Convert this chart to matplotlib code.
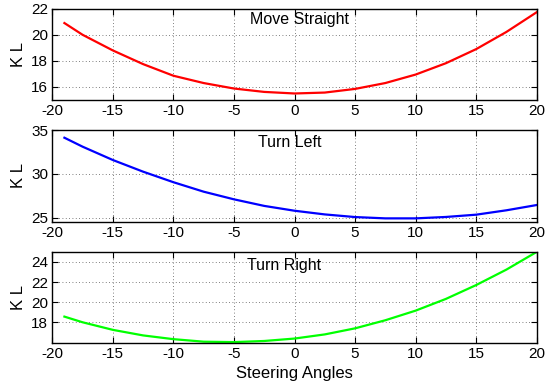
import numpy as np
import matplotlib.pyplot as plt

plt.rcParams['font.family'] = ['Liberation Sans', 'DejaVu Sans']
plt.rcParams['axes.unicode_minus'] = False

angles = [-19, -17.5, -15, -12.5, -10, -7.5, -5, -2.5, 0, 2.5, 5, 7.5, 10, 12.5, 15, 17.5, 20]

kl_straight = [20.9, 20.0, 18.8, 17.75, 16.86, 16.3, 15.88, 15.62, 15.5, 15.57, 15.85, 16.3, 16.95, 17.82, 18.9, 20.22, 21.73]
kl_left = [34.12, 33.1, 31.58, 30.25, 29.05, 27.97, 27.1, 26.35, 25.8, 25.38, 25.08, 24.93, 24.93, 25.09, 25.35, 25.85, 26.45]
kl_right = [18.58, 18.02, 17.27, 16.72, 16.35, 16.1, 16.06, 16.17, 16.41, 16.82, 17.42, 18.22, 19.17, 20.33, 21.7, 23.23, 24.98]

series = [kl_straight, kl_left, kl_right]
colors = ['#ff0000', '#0000ff', '#00ff00']
names = ['Move Straight', 'Turn Left', 'Turn Right']
ylims = [(15, 22), (24.55, 35), (16, 25)]
yticks = [[16, 18, 20, 22], [25, 30, 35], [18, 20, 22, 24]]
label_pos = [(0.45, 21.14), (-0.4, 33.56), (-0.85, 23.67)]

fig = plt.figure(figsize=(5.52, 3.87), dpi=100)
tops = [8.7, 130, 251.7]
bots = [100, 221.7, 342.7]
W, H = 552.0, 387.0
x0, x1 = 52.3, 536.7

for i in range(3):
    ax = fig.add_axes([x0 / W, 1 - bots[i] / H, (x1 - x0) / W, (bots[i] - tops[i]) / H])
    ax.plot(angles, series[i], color=colors[i], lw=1.6)
    ax.set_xlim(-20, 20)
    ax.set_ylim(*ylims[i])
    ax.set_xticks(range(-20, 21, 5))
    ax.set_yticks(yticks[i])
    ax.grid(True, linestyle=(0, (1, 3)), color='#555555', lw=0.6)
    ax.tick_params(direction='in', top=True, right=True, labelsize=11, length=4, pad=3)
    for s in ax.spines.values():
        s.set_linewidth(1.0)
    ax.set_ylabel('K L', fontsize=12, labelpad=4)
    ax.text(label_pos[i][0], label_pos[i][1], names[i], ha='center', va='center', fontsize=11.5)
    if i == 2:
        ax.set_xlabel('Steering Angles', fontsize=12, labelpad=4)

fig.savefig('out.png', dpi=100)
